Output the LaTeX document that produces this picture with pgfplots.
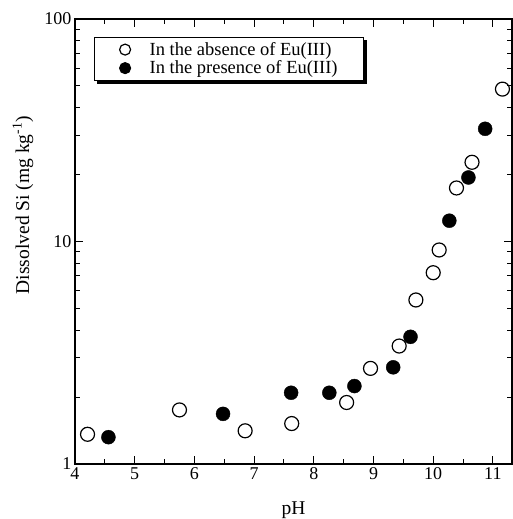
\documentclass[border=0pt]{standalone}
\usepackage{fontspec}
\setmainfont{Liberation Serif}
\usepackage{pgfplots}
\pgfplotsset{compat=1.18}

\begin{document}
\begin{tikzpicture}
\begin{axis}[
  scale only axis, width=437pt, height=445pt,
  xmin=4, xmax=11.32, ymin=1, ymax=100, ymode=log,
  xtick={4,5,...,11}, minor x tick num=1,
  ytick={1,10,100}, yticklabels={1,10,100},
  major tick length=8pt, minor tick length=5pt,
  tick style={black, line width=1pt},
  axis line style={line width=1.1pt},
  tick label style={font=\fontsize{18}{20}\selectfont},
  /pgf/number format/assume math mode=true,
  xlabel={pH}, ylabel={Dissolved Si (mg kg\textsuperscript{-1})},
  label style={font=\fontsize{19.5}{22}\selectfont},
  xlabel style={at={(axis description cs:0.5,-0.1034)}, anchor=center},
  ylabel style={at={(axis description cs:-0.119,0.582)}, anchor=center, rotate=0},
  legend style={at={(0.0435,0.96)}, anchor=north west, draw=black, line width=1.1pt,
    fill=white, font=\fontsize{18.5}{21}\selectfont, inner xsep=24pt, inner ysep=3pt,
    row sep=0pt, legend cell align=left,
    preaction={fill=black, draw=black, transform canvas={xshift=3pt, yshift=-3pt}}},
  legend image code/.code={
    \path (-6pt,0pt) (22pt,0pt);
    \draw[#1, mark size=5.5pt] plot coordinates {(0pt,0pt)};},
]
% in the absence of Eu(III)
\addplot[only marks, mark=o, mark size=7pt, mark options={line width=1.2pt, fill=white}] coordinates {
  (4.21,1.36) (5.75,1.75) (6.85,1.41) (7.63,1.52) (8.55,1.89) (8.95,2.69) (9.43,3.39)
  (9.71,5.46) (10.00,7.24) (10.10,9.16) (10.39,17.4) (10.65,22.7) (11.16,48.4)};
\addlegendentry{In the absence of Eu(III)}
% in the presence of Eu(III)
\addplot[only marks, mark=*, mark size=7pt, mark options={fill=black}] coordinates {
  (4.56,1.32) (6.48,1.68) (7.62,2.09) (8.26,2.09) (8.68,2.24) (9.33,2.72) (9.62,3.73)
  (10.27,12.4) (10.59,19.4) (10.87,32.1)};
\addlegendentry{In the presence of Eu(III)}
\end{axis}
\pgfresetboundingbox
\path[use as bounding box] (-75pt,-55pt) rectangle (438pt,464pt);
\end{tikzpicture}
\end{document}
